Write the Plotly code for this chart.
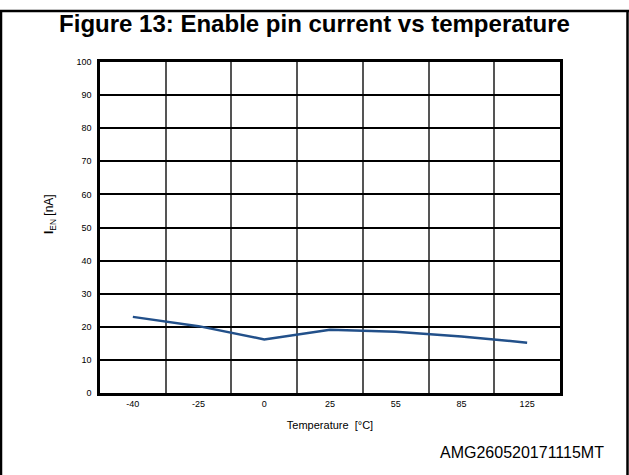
import plotly.graph_objects as go

# dados
temperaturas = ["-40", "-25", "0", "25", "55", "85", "125"]
corrente_en = [23.0, 20.2, 16.2, 19.1, 18.5, 17.1, 15.2]
y_ticks = [0, 10, 20, 30, 40, 50, 60, 70, 80, 90, 100]

FONTE = "Liberation Sans, Arial, sans-serif"

W, H = 629, 475
L, R, T, B = 100, 69, 62, 82
pw, ph = W - L - R, H - T - B


def px_x(x):
    return (x - L) / pw


def px_y(y):
    return (H - B - y) / ph


fig = go.Figure()

fig.add_trace(go.Scatter(
    x=temperaturas,
    y=corrente_en,
    mode="lines",
    line=dict(color="#22508a", width=2.5),
    showlegend=False
))

fig.update_layout(
    width=W,
    height=H,
    margin=dict(l=L, r=R, t=T, b=B),
    paper_bgcolor="white",
    plot_bgcolor="white",
    font=dict(family=FONTE, color="black"),
    title=dict(
        text="<b>Figure 13: Enable pin current vs temperature</b>",
        x=0.5, xanchor="center",
        y=1 - 24 / H, yanchor="middle",
        font=dict(size=24, color="black")
    ),
    xaxis=dict(
        type="category",
        range=[-0.5, len(temperaturas) - 0.5],
        tickson="boundaries",
        ticks="",
        showgrid=True,
        gridcolor="#555555",
        gridwidth=1.5,
        showline=True,
        linecolor="black",
        linewidth=2.5,
        mirror=True,
        tickfont=dict(size=9),
        title=dict(text="Temperature  [°C]", font=dict(size=11), standoff=14),
        zeroline=False
    ),
    yaxis=dict(
        range=[0, 100],
        tickvals=y_ticks,
        ticks="",
        showgrid=True,
        gridcolor="black",
        gridwidth=1.5,
        showline=True,
        linecolor="black",
        linewidth=2.5,
        mirror=True,
        zeroline=False,
        tickfont=dict(size=9),
        ticklabelstandoff=4
    ),
    shapes=[
        # moldura externa da figura: laterais e topo
        dict(type="line", xref="paper", yref="paper",
             x0=px_x(1), x1=px_x(1), y0=px_y(H + 20), y1=px_y(10),
             line=dict(color="black", width=2.5)),
        dict(type="line", xref="paper", yref="paper",
             x0=px_x(627.5), x1=px_x(627.5), y0=px_y(H + 20), y1=px_y(10),
             line=dict(color="black", width=2.5)),
        dict(type="line", xref="paper", yref="paper",
             x0=px_x(0), x1=px_x(629), y0=px_y(11), y1=px_y(11),
             line=dict(color="black", width=2.5)),
    ],
    annotations=[
        # título do eixo y (I bold com subscrito EN)
        dict(
            text="<b>I</b><sub>EN</sub> [nA]",
            xref="paper", yref="paper",
            x=px_x(50), y=px_y(214),
            xanchor="center", yanchor="middle",
            textangle=-90,
            showarrow=False,
            font=dict(size=12, color="black")
        ),
        dict(
            text="AMG260520171115MT",
            xref="paper", yref="paper",
            x=px_x(606), y=px_y(452),
            xanchor="right", yanchor="middle",
            showarrow=False,
            font=dict(size=16, color="black")
        )
    ]
)

# remove a margem padrão do body para a figura ficar colada no canto da janela
fig.write_html(
    "out.html",
    config={"displayModeBar": False},
    post_script="document.body.style.margin='0';"
)
